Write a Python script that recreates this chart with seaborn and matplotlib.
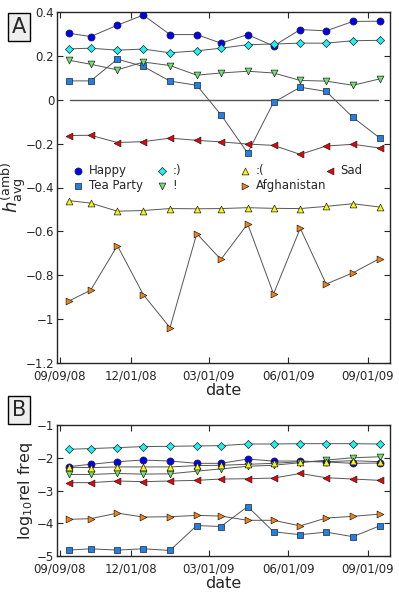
import pandas as pd
import numpy as np
import matplotlib
matplotlib.use("Agg")
import matplotlib.pyplot as plt
import matplotlib.dates as mdates
import seaborn as sns

# sample dates (Sept 2008 partial month, then mid-month)
dates = pd.to_datetime(["2008-09-20", "2008-10-15", "2008-11-15", "2008-12-15",
                        "2009-01-15", "2009-02-15", "2009-03-15", "2009-04-15",
                        "2009-05-15", "2009-06-15", "2009-07-15", "2009-08-15",
                        "2009-09-15"])
tick_dates = pd.to_datetime(["2008-09-09", "2008-12-01", "2009-03-01",
                             "2009-06-01", "2009-09-01"])

names = ["Happy", "Tea Party", ":)", "!", ":(", "Afghanistan", "Sad"]

# panel A: h_avg^(amb)
havg_happy = [0.303, 0.288, 0.340, 0.386, 0.297, 0.297, 0.258, 0.297, 0.245, 0.320, 0.314, 0.357, 0.358]
havg_tea = [0.086, 0.086, 0.185, 0.152, 0.085, 0.066, -0.068, -0.243, -0.012, 0.057, 0.038, -0.080, -0.174]
havg_smile = [0.232, 0.235, 0.226, 0.231, 0.214, 0.223, 0.235, 0.251, 0.254, 0.258, 0.258, 0.269, 0.271]
havg_excl = [0.180, 0.162, 0.136, 0.172, 0.156, 0.112, 0.122, 0.130, 0.122, 0.088, 0.085, 0.066, 0.095]
havg_frown = [-0.460, -0.471, -0.508, -0.505, -0.496, -0.497, -0.496, -0.492, -0.495, -0.496, -0.486, -0.474, -0.489]
havg_afgh = [-0.917, -0.868, -0.665, -0.888, -1.039, -0.610, -0.728, -0.566, -0.885, -0.586, -0.840, -0.789, -0.724]
havg_sad = [-0.163, -0.162, -0.195, -0.191, -0.175, -0.185, -0.192, -0.202, -0.208, -0.249, -0.211, -0.203, -0.220]

# panel B: log10 relative frequency
freq_happy = [-2.27, -2.20, -2.12, -2.07, -2.10, -2.17, -2.17, -2.04, -2.10, -2.10, -2.13, -2.17, -2.16]
freq_tea = [-4.82, -4.78, -4.82, -4.78, -4.83, -4.07, -4.10, -3.49, -4.26, -4.35, -4.27, -4.41, -4.08]
freq_smile = [-1.74, -1.72, -1.69, -1.66, -1.65, -1.64, -1.63, -1.58, -1.58, -1.57, -1.57, -1.57, -1.58]
freq_excl = [-2.51, -2.51, -2.48, -2.50, -2.49, -2.41, -2.34, -2.26, -2.23, -2.15, -2.07, -2.00, -1.97]
freq_frown = [-2.29, -2.30, -2.28, -2.28, -2.28, -2.24, -2.23, -2.20, -2.17, -2.12, -2.12, -2.09, -2.12]
freq_afgh = [-3.88, -3.86, -3.69, -3.81, -3.80, -3.76, -3.78, -3.91, -3.91, -4.08, -3.84, -3.79, -3.72]
freq_sad = [-2.76, -2.76, -2.71, -2.73, -2.71, -2.69, -2.65, -2.64, -2.62, -2.48, -2.61, -2.65, -2.69]

havg = [havg_happy, havg_tea, havg_smile, havg_excl, havg_frown, havg_afgh, havg_sad]
freq = [freq_happy, freq_tea, freq_smile, freq_excl, freq_frown, freq_afgh, freq_sad]

colors = ["#0000f0", "#1f80e8", "#20f0f0", "#6ce46c", "#f8f800", "#f5820f", "#f00000"]
markers = ["o", "s", "D", "v", "^", ">", "<"]
sizes = [26, 18, 17, 24, 24, 24, 24]

sns.set_style("ticks")
plt.rcParams["font.family"] = ["DejaVu Sans"]

fig = plt.figure(figsize=(3.99, 5.97), dpi=100)
axA = fig.add_axes([57 / 399, 1 - 363 / 597, 333 / 399, 351 / 597])
axB = fig.add_axes([57 / 399, 1 - 556 / 597, 333 / 399, 131 / 597])


def draw(ax, data, legend):
    for name, vals, c, m, s in zip(names, data, colors, markers, sizes):
        sns.lineplot(x=dates, y=vals, ax=ax, color="#555555", lw=0.7, zorder=2)
        sns.scatterplot(x=dates, y=vals, ax=ax, color=c, marker=m, s=s,
                        edgecolor="#222222", linewidth=0.5, zorder=3,
                        label=name if legend else None, legend=legend)
    ax.set_xlim(pd.Timestamp("2008-09-06"), pd.Timestamp("2009-09-27"))
    ax.set_xticks(tick_dates)
    ax.xaxis.set_major_formatter(mdates.DateFormatter("%m/%d/%y"))
    ax.tick_params(direction="in", top=True, right=True, labelsize=8.5,
                   length=4, width=0.8, pad=2)
    ax.tick_params(axis="x", pad=5)
    for sp in ax.spines.values():
        sp.set_linewidth(1.0)
    ax.set_xlabel("date", fontsize=11.5, labelpad=0)


draw(axA, havg, True)
axA.axhline(0, xmin=0.04, xmax=0.965, color="#555555", lw=1.0, zorder=1)
axA.set_ylim(-1.2, 0.4)
axA.set_yticks([-1.2, -1, -0.8, -0.6, -0.4, -0.2, 0, 0.2, 0.4])
axA.set_yticklabels(["\u22121.2", "\u22121", "\u22120.8", "\u22120.6", "\u22120.4",
                     "\u22120.2", "0", "0.2", "0.4"])
axA.set_ylabel(r"$h_{\rm avg}^{\rm (amb)}$", fontsize=13, labelpad=-2)

# legend: four equally spaced columns, like the original
h, l = axA.get_legend_handles_labels()
col_x = [0.045, 0.297, 0.547, 0.802]
groups = [[0, 1], [2, 3], [4, 5], [6]]
for k, (x0, idx) in enumerate(zip(col_x, groups)):
    leg = axA.legend([h[i] for i in idx], [l[i] for i in idx], frameon=False,
                     loc="upper left", bbox_to_anchor=(x0, 0.567),
                     fontsize=8.5, handletextpad=0.4, handlelength=1.0,
                     borderaxespad=0, borderpad=0, labelspacing=0.2)
    if k < len(groups) - 1:
        axA.add_artist(leg)

draw(axB, freq, False)
axB.set_ylim(-5, -1)
axB.set_yticks([-5, -4, -3, -2, -1])
axB.set_yticklabels(["\u22125", "\u22124", "\u22123", "\u22122", "\u22121"])
axB.set_ylabel(r"log$_{10}$rel freq", fontsize=11.5, labelpad=1)

for txt, y in [("A", 1 - 27 / 597), ("B", 1 - 410 / 597)]:
    fig.text(19 / 399, y, txt, fontsize=15, ha="center", va="center",
             bbox=dict(boxstyle="square,pad=0.2", facecolor="#eeeeee",
                       edgecolor="black", linewidth=1.0))

fig.savefig("out.png", dpi=100)
